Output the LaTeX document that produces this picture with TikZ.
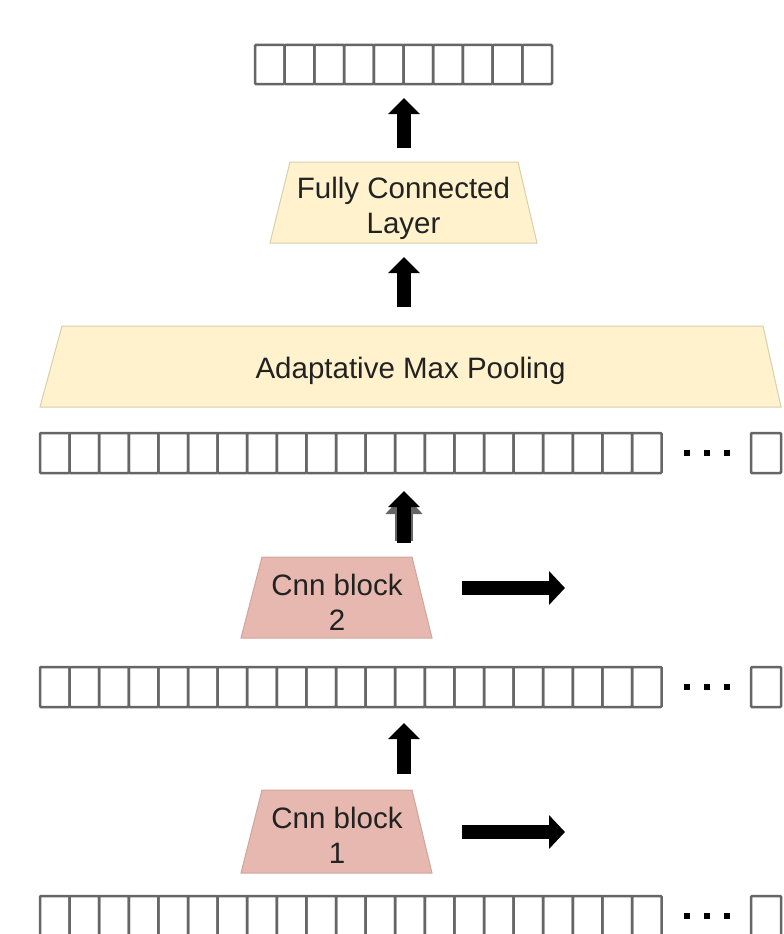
\documentclass[tikz,border=0pt]{standalone}
\usepackage{fontspec}
\setmainfont{Liberation Sans}
\usetikzlibrary{arrows.meta}
\definecolor{couche}{RGB}{255,242,204}
\definecolor{bloc}{RGB}{230,184,175}
\definecolor{cellule}{RGB}{102,102,102}
\definecolor{texte}{RGB}{34,34,34}

\begin{document}
\begin{tikzpicture}[x=1pt,y=-1pt,
  cell/.style={draw=cellule,line width=2.5pt,minimum width=29.6pt,minimum height=40pt,inner sep=0pt,rounded corners=1pt},
  layertext/.style={align=center,text=texte,font=\fontsize{29.5}{35}\selectfont,inner sep=0pt},
  fleche/.style={line width=14pt,-{Triangle[width=31pt,length=16pt]}},
  dot/.style={fill=black,minimum size=6pt,inner sep=0pt}]
\useasboundingbox (0,0) rectangle (784,934);

% output vector
\foreach \i in {0,...,9}
  \node[cell,minimum width=29.7pt,minimum height=39pt] (out\i) at ({269.85+29.7*\i},64.5) {};

% feature maps
\foreach \r/\y in {feat/453,mid/687,inp/916} {
  \foreach \i in {0,...,20}
    \node[cell] (\r\i) at ({54.8+29.6*\i},\y) {};
  \foreach \d in {0,1,2}
    \node[dot] (\r-dot\d) at ({687+20*\d},\y) {};
  \node[cell,minimum width=30pt] (\r-last) at (766,\y) {};
}

% layers
\draw[fill=couche,draw=couche!85!black,line width=1pt] (270,243) -- (290,162) -- (518,162) -- (537,243) -- cycle;
\node[layertext] (fc) at (403.5,208.5) {Fully Connected\\Layer};
\draw[fill=couche,draw=couche!85!black,line width=1pt] (40,407) -- (62,326) -- (763,326) -- (781,407) -- cycle;
\node[layertext] (pool) at (410.5,370.5) {Adaptative Max Pooling};
\draw[fill=bloc,draw=bloc!90!black,line width=1pt] (241,638) -- (262,557) -- (412,557) -- (432,638) -- cycle;
\node[layertext] (cnn2) at (337,602.5) {Cnn block\\2};
\draw[fill=bloc,draw=bloc!90!black,line width=1pt] (241,873) -- (262,790) -- (412,790) -- (432,873) -- cycle;
\node[layertext] (cnn1) at (337,835.5) {Cnn block\\1};

% arrows
\coordinate (a1s) at (404,148); \coordinate (a1e) at (404,98);
\coordinate (a2s) at (404,307); \coordinate (a2e) at (404,257);
\coordinate (a3s) at (404,543); \coordinate (a3e) at (404,491);
\coordinate (a4s) at (404,774); \coordinate (a4e) at (404,723);
\coordinate (r2s) at (462,588); \coordinate (r2e) at (565,588);
\coordinate (r1s) at (462,832); \coordinate (r1e) at (565,832);
\draw[fleche] (a1s) -- (a1e);
\draw[fleche] (a2s) -- (a2e);
\draw[line width=18pt,draw=cellule,-{Triangle[width=36pt,length=20pt]}] ([yshift=2pt]a3s) -- ([yshift=-3pt]a3e);
\draw[fleche] (a3s) -- (a3e);
\draw[fleche] (a4s) -- (a4e);
\draw[fleche,-{Triangle[width=33pt,length=16pt]}] (r2s) -- (r2e);
\draw[fleche,-{Triangle[width=33pt,length=16pt]}] (r1s) -- (r1e);
\end{tikzpicture}
\end{document}
